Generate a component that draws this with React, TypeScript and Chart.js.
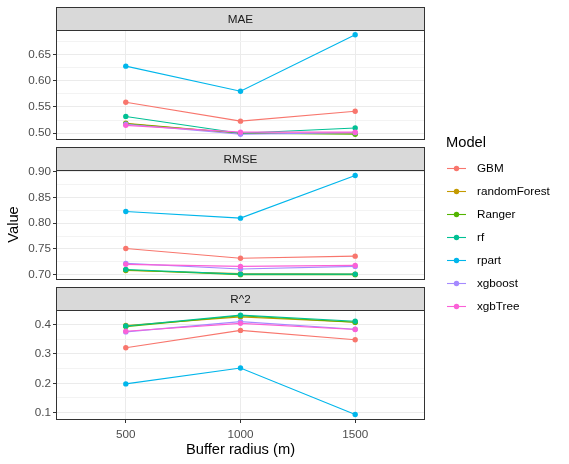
import { useEffect, useRef } from 'react';
import { Chart, registerables } from 'chart.js';

Chart.register(...registerables);

// Buffer radii on the x axis (m)
const bufferRadii = [500, 1000, 1500];
const xTickLabels = ['500', '1000', '1500'];

// Models in legend order, with ggplot's default hue palette
const models = ['GBM', 'randomForest', 'Ranger', 'rf', 'rpart', 'xgboost', 'xgbTree'];
const modelColors = ['#F8766D', '#C49A00', '#53B400', '#00C094', '#00B6EB', '#A58AFF', '#FB61D7'];

// Metric values per model (rows follow `models`, columns follow `bufferRadii`)
const maeValues = [
  [0.559, 0.523, 0.542],
  [0.519, 0.500, 0.500],
  [0.518, 0.500, 0.498],
  [0.532, 0.500, 0.510],
  [0.628, 0.580, 0.688],
  [0.517, 0.498, 0.501],
  [0.515, 0.502, 0.502],
];
const rmseValues = [
  [0.751, 0.732, 0.736],
  [0.708, 0.702, 0.701],
  [0.709, 0.700, 0.700],
  [0.710, 0.701, 0.701],
  [0.823, 0.810, 0.893],
  [0.722, 0.711, 0.716],
  [0.720, 0.716, 0.718],
];
const r2Values = [
  [0.321, 0.380, 0.348],
  [0.397, 0.426, 0.408],
  [0.393, 0.430, 0.408],
  [0.395, 0.432, 0.411],
  [0.198, 0.252, 0.094],
  [0.375, 0.410, 0.384],
  [0.377, 0.404, 0.383],
];

// Y tick labels per facet
const maeTicks = ['0.50', '0.55', '0.60', '0.65'];
const rmseTicks = ['0.70', '0.75', '0.80', '0.85', '0.90'];
const r2Ticks = ['0.1', '0.2', '0.3', '0.4'];

const W = 569;
const H = 464;
const PANEL_LEFT = 57;
const PANEL_RIGHT = 424;
const STRIP_H = 23;
const X_AXIS_H = 45;
const POINT_R = 2.7;
const FONT = "'Liberation Sans', Arial, sans-serif";

type Panel = {
  title: string;
  values: number[][];
  ticks: string[];
  min: number;
  max: number;
  top: number;
  bottom: number;
};

const panels: Panel[] = [
  { title: 'MAE', values: maeValues, ticks: maeTicks, min: 0.4889, max: 0.697, top: 30, bottom: 139 },
  { title: 'RMSE', values: rmseValues, ticks: rmseTicks, min: 0.6915, max: 0.9037, top: 170, bottom: 279 },
  { title: 'R^2', values: r2Values, ticks: r2Ticks, min: 0.0785, max: 0.4495, top: 310, bottom: 419 },
];

function buildConfig(p: Panel, index: number): any {
  const isLast = index === panels.length - 1;
  const isMiddle = index === 1;
  const major = p.ticks.map((t) => parseFloat(t));
  const step = major[1] - major[0];
  const all: number[] = [];
  for (let i = -1; i < major.length; i++) {
    const base = i < 0 ? major[0] - step : major[i];
    if (i >= 0) all.push(base);
    const mid = base + step / 2;
    if (mid > p.min && mid < p.max) all.push(mid);
  }
  const isMajor = (v: number | undefined) =>
    v !== undefined && major.some((m) => Math.abs(m - v) < 1e-6);

  const lineSets = models.map((m, k) => ({
    label: m,
    data: bufferRadii.map((x, j) => ({ x, y: p.values[k][j] })),
    showLine: true,
    borderColor: modelColors[k],
    backgroundColor: modelColors[k],
    borderWidth: 1.1,
    pointRadius: 0,
    pointHoverRadius: 0,
    tension: 0,
    order: 13 - k,
  }));
  const pointSets = models.map((m, k) => ({
    label: m + ' points',
    data: bufferRadii.map((x, j) => ({ x, y: p.values[k][j] })),
    showLine: false,
    borderColor: modelColors[k],
    backgroundColor: modelColors[k],
    pointBackgroundColor: modelColors[k],
    pointBorderWidth: 0,
    pointRadius: POINT_R,
    pointHoverRadius: POINT_R,
    order: 6 - k,
  }));

  const panelFrame = {
    id: 'panelFrame' + index,
    afterDraw(chart: any) {
      const { ctx, chartArea } = chart;
      const l = Math.round(chartArea.left) - 0.5;
      const r = Math.round(chartArea.right) + 0.5;
      const t = Math.round(chartArea.top) + 0.5;
      const b = Math.round(chartArea.bottom) + 0.5;
      ctx.save();
      // facet strip
      ctx.fillStyle = '#D9D9D9';
      ctx.fillRect(l, t - STRIP_H, r - l, STRIP_H);
      ctx.strokeStyle = '#333333';
      ctx.lineWidth = 1;
      ctx.strokeRect(l, t - STRIP_H, r - l, STRIP_H);
      ctx.fillStyle = '#1A1A1A';
      ctx.font = `11.7px ${FONT}`;
      ctx.textAlign = 'center';
      ctx.textBaseline = 'middle';
      ctx.fillText(p.title, (l + r) / 2, t - STRIP_H / 2 + 0.5);
      // panel border
      ctx.strokeRect(l, t, r - l, b - t);

      if (isLast) {
        // legend
        ctx.textAlign = 'left';
        ctx.fillStyle = '#000000';
        ctx.font = `14.7px ${FONT}`;
        ctx.fillText('Model', 446, 143);
        ctx.font = `11.7px ${FONT}`;
        models.forEach((m, k) => {
          const y = 168.5 + k * 23;
          ctx.strokeStyle = modelColors[k];
          ctx.lineWidth = 1.1;
          ctx.beginPath();
          ctx.moveTo(447, y);
          ctx.lineTo(466, y);
          ctx.stroke();
          ctx.fillStyle = modelColors[k];
          ctx.beginPath();
          ctx.arc(456.5, y, POINT_R, 0, Math.PI * 2);
          ctx.fill();
          ctx.fillStyle = '#000000';
          ctx.fillText(m, 477, y);
        });
      }
      ctx.restore();
    },
  };

  return {
    type: 'scatter',
    data: { datasets: [...lineSets, ...pointSets] },
    plugins: [panelFrame],
    options: {
      responsive: false,
      maintainAspectRatio: false,
      devicePixelRatio: 1,
      animation: false,
      events: [],
      layout: {
        padding: {
          left: 0,
          top: p.top,
          right: W - PANEL_RIGHT,
          bottom: H - p.bottom - (isLast ? X_AXIS_H : 0),
        },
      },
      plugins: {
        legend: { display: false },
        tooltip: { enabled: false },
      },
      scales: {
        x: {
          type: 'linear',
          position: 'bottom',
          min: 200,
          max: 1800,
          afterBuildTicks: (s: any) => {
            s.ticks = bufferRadii.map((v) => ({ value: v }));
          },
          afterFit: (s: any) => {
            s.height = isLast ? X_AXIS_H : 0;
          },
          border: { display: false },
          grid: {
            color: '#EBEBEB',
            lineWidth: 1,
            drawTicks: isLast,
            tickLength: 4,
            tickColor: '#333333',
          },
          ticks: {
            display: isLast,
            autoSkip: false,
            maxRotation: 0,
            padding: 5,
            color: '#4D4D4D',
            font: { family: FONT, size: 11.7 },
            callback: (v: number) => {
              const i = bufferRadii.indexOf(v);
              return i >= 0 ? xTickLabels[i] : '';
            },
          },
          title: {
            display: isLast,
            text: 'Buffer radius (m)',
            color: '#000000',
            font: { family: FONT, size: 14.7 },
            padding: { top: 0, bottom: 5 },
          },
        },
        y: {
          type: 'linear',
          position: 'left',
          min: p.min,
          max: p.max,
          afterBuildTicks: (s: any) => {
            s.ticks = all.map((v) => ({ value: v }));
          },
          afterFit: (s: any) => {
            s.width = PANEL_LEFT;
          },
          border: { display: false },
          grid: {
            color: (c: any) => (isMajor(c.tick?.value) ? '#EBEBEB' : '#F3F3F3'),
            lineWidth: 1,
            tickLength: 4,
            tickColor: (c: any) => (isMajor(c.tick?.value) ? '#333333' : 'rgba(0,0,0,0)'),
          },
          ticks: {
            autoSkip: false,
            padding: 2,
            color: '#4D4D4D',
            font: { family: FONT, size: 11.7 },
            callback: (v: number) => {
              const i = major.findIndex((m) => Math.abs(m - v) < 1e-6);
              return i >= 0 ? p.ticks[i] : '';
            },
          },
          title: {
            display: isMiddle,
            text: 'Value',
            color: '#000000',
            font: { family: FONT, size: 14.7 },
            padding: { top: 5, bottom: 0 },
          },
        },
      },
    },
  };
}

export default function App() {
  const ref0 = useRef<HTMLCanvasElement>(null);
  const ref1 = useRef<HTMLCanvasElement>(null);
  const ref2 = useRef<HTMLCanvasElement>(null);
  const refs = [ref0, ref1, ref2];

  useEffect(() => {
    const charts = panels.map((p, i) => new Chart(refs[i].current as HTMLCanvasElement, buildConfig(p, i)));
    return () => charts.forEach((c) => c.destroy());
  }, []);

  return (
    <div style={{ position: 'fixed', left: 0, top: 0, width: W, height: H, background: '#FFFFFF' }}>
      {panels.map((p, i) => (
        <canvas
          key={p.title}
          ref={refs[i]}
          width={W}
          height={H}
          style={{ position: 'absolute', left: 0, top: 0, width: W, height: H }}
        />
      ))}
    </div>
  );
}
